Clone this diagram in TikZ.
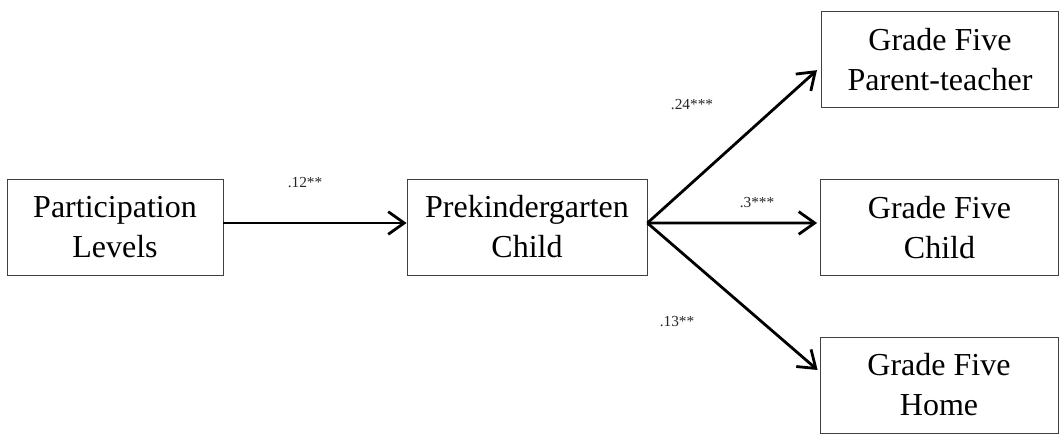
\documentclass[tikz,border=0pt]{standalone}
\usepackage{fontspec}
\setmainfont{Liberation Serif}
\usetikzlibrary{arrows.meta, positioning}

\begin{document}
\begin{tikzpicture}[x=0.75pt, y=-0.75pt,
    box/.style={rectangle, draw=black!75, line width=0.6pt, inner sep=0pt, minimum height=72pt, align=center, font=\fontsize{24}{30}\selectfont},
    coef/.style={font=\fontsize{11.5}{13}\selectfont, text=black!85, inner sep=1pt},
    arrow/.style={line width=2.1pt, -{Straight Barb[length=12pt, width=17pt, line width=2.1pt]}}
]
    \useasboundingbox (0,0) rectangle (1063,434);

    % Nodes
    \node[box, minimum width=162pt] (partic) at (115,227) {Participation\\Levels};
    \node[box, minimum width=180pt] (prek) at (527,227) {Prekindergarten\\Child};
    \node[box, minimum width=178pt] (gfpt) at (940,59.5) {Grade Five\\Parent-teacher};
    \node[box, minimum width=179pt] (gfchild) at (939.5,227.5) {Grade Five\\Child};
    \node[box, minimum width=178.5pt] (gfhome) at (939,385) {Grade Five\\Home};

    % Coefficients
    \node[coef] (c1) at (305,183) {.12**};
    \node[coef] (c2) at (692,105) {.24***};
    \node[coef] (c3) at (757,203) {.3***};
    \node[coef] (c4) at (677,322) {.13**};

    % Paths
    \draw[arrow] ([yshift=3pt]partic.east) -- ([yshift=3pt]prek.west);
    \draw[arrow] ([yshift=3pt]prek.east) -- ([xshift=-3pt, yshift=-8pt]gfpt.west);
    \draw[arrow] ([yshift=3pt]prek.east) -- ([xshift=-2pt, yshift=3.4pt]gfchild.west);
    \draw[arrow] ([yshift=3pt]prek.east) -- ([xshift=-1.5pt, yshift=11.25pt]gfhome.west);
\end{tikzpicture}
\end{document}
